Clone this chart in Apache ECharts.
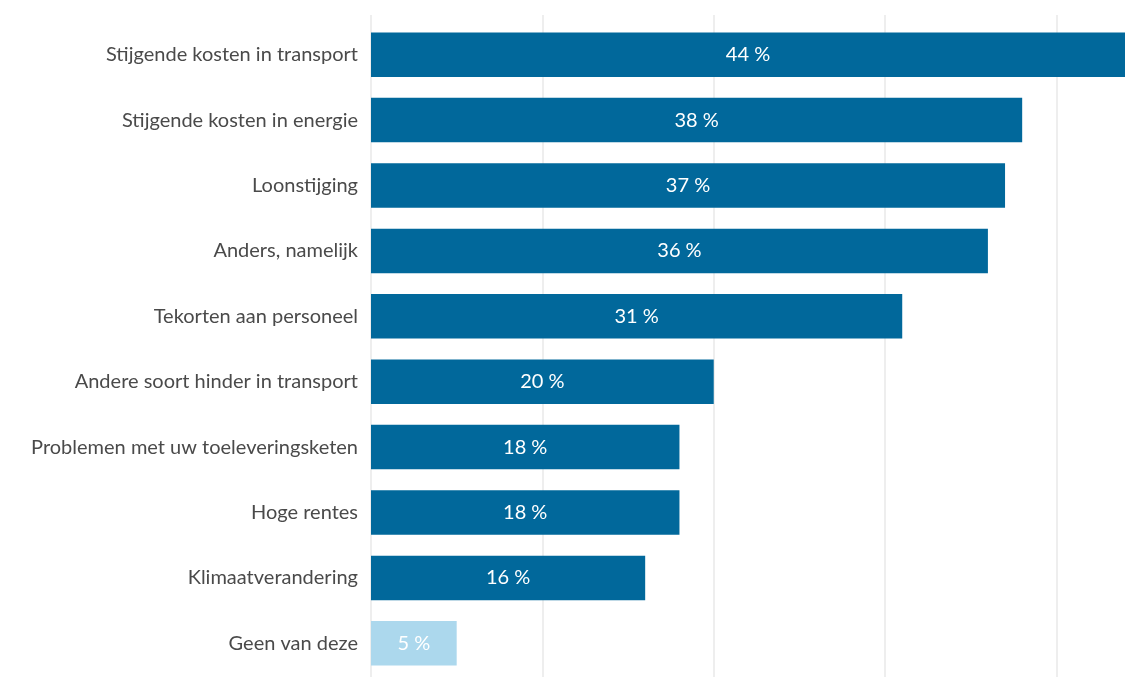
<!DOCTYPE html>
<html><head><meta charset="utf-8">
<script src="https://cdn.jsdelivr.net/npm/echarts@6/dist/echarts.min.js"></script>
<style>html,body{margin:0;padding:0;background:#fff}#c{width:1141px;height:677px}</style>
</head><body><div id="c"></div>
<script>
const categories = ["Stijgende kosten in transport","Stijgende kosten in energie","Loonstijging","Anders, namelijk","Tekorten aan personeel","Andere soort hinder in transport","Problemen met uw toeleveringsketen","Hoge rentes","Klimaatverandering","Geen van deze"];
const values = [44,38,37,36,31,20,18,18,16,5];
const highlight = [true,true,true,true,true,true,true,true,true,false];
const darkBlue = "#01689b", lightBlue = "#acd8ed";
const chart = echarts.init(document.getElementById('c'));
chart.setOption({
  animation:false,
  textStyle:{fontFamily:"Lato, 'Noto Sans', sans-serif"},
  grid:[{left:371,right:16,top:15,bottom:0},{left:371,right:16,top:22,bottom:1}],
  xAxis:[
    {gridIndex:0,type:'value',min:0,max:44,interval:10,axisLabel:{show:false},axisLine:{show:false},axisTick:{show:false},
     splitLine:{show:true,showMaxLine:false,lineStyle:{color:'#eeeeee',width:2}}},
    {gridIndex:1,type:'value',min:0,max:44,interval:10,axisLabel:{show:false},axisLine:{show:false},axisTick:{show:false},splitLine:{show:false}}
  ],
  yAxis:[
    {gridIndex:0,type:'category',data:[],show:false},
    {gridIndex:1,type:'category',inverse:true,data:categories,axisLine:{show:false},axisTick:{show:false},
     axisLabel:{color:'#4a4a4a',fontSize:20,margin:13,fontFamily:"Lato, 'Noto Sans', sans-serif"}}
  ],
  series:[{
    type:'bar',xAxisIndex:1,yAxisIndex:1,barCategoryGap:'32%',
    data:values.map((v,i)=>({value:v,itemStyle:{color:highlight[i]?darkBlue:lightBlue}})),
    label:{show:true,position:'inside',color:'#ffffff',fontSize:20,formatter:p=>p.value+' %'}
  }]
});
</script></body></html>
